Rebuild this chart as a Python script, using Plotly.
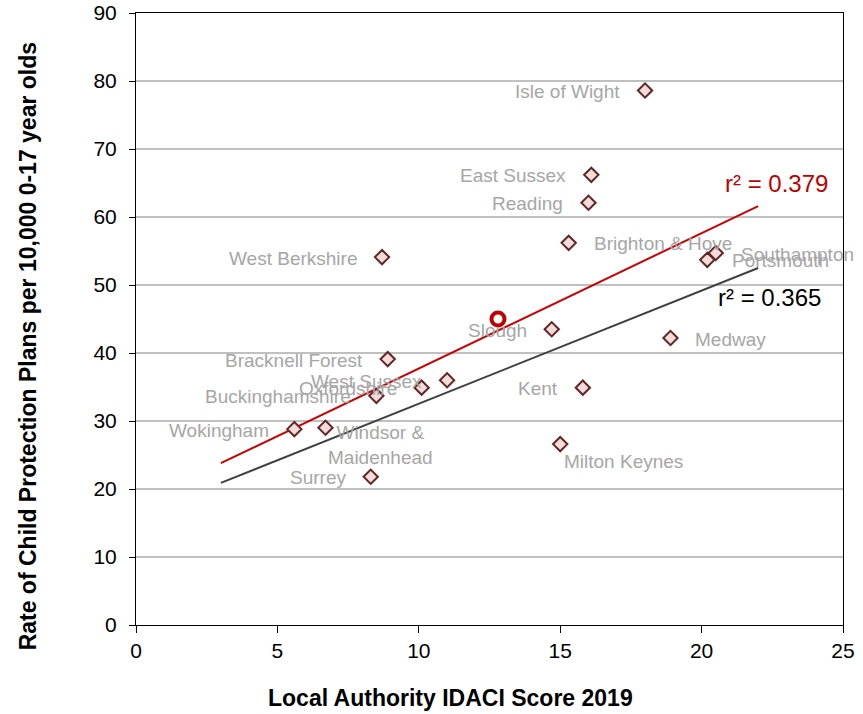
import plotly.graph_objects as go

# Local authority data
authorities = ["Isle of Wight", "East Sussex", "Reading", "Brighton & Hove", "West Berkshire",
               "Southampton", "Portsmouth", "Slough", "Medway", "Bracknell Forest",
               "West Sussex", "Oxfordshire", "Buckinghamshire", "Kent", "Wokingham",
               "Windsor &<br>Maidenhead", "Milton Keynes", "Surrey"]
idaci = [18.0, 16.1, 16.0, 15.3, 8.7, 20.5, 20.2, 14.7, 18.9, 8.9,
         11.0, 10.1, 8.5, 15.8, 5.6, 6.7, 15.0, 8.3]
cpp_rate = [78.6, 66.2, 62.1, 56.2, 54.1, 54.7, 53.7, 43.5, 42.2, 39.1,
            36.0, 34.9, 33.7, 34.9, 28.8, 29.0, 26.6, 21.8]

# highlighted point (red circle)
highlight_x = [12.8]
highlight_y = [45.0]

# trend lines
trend_x = [3, 22]
trend_red_y = [23.8, 61.6]
trend_black_y = [20.9, 52.5]
r2_red = "r² = 0.379"
r2_black = "r² = 0.365"

# label placement: side of marker
label_side = ["left", "left", "left", "right", "left",
              "right", "right", "left", "right", "left",
              "left", "left", "left", "left", "left",
              "below", "below", "left"]
below_xshift = {"Windsor &<br>Maidenhead": 55, "Milton Keynes": 63}

FONT = "Liberation Sans, Arial, sans-serif"

fig = go.Figure()

fig.add_trace(go.Scatter(x=trend_x, y=trend_red_y, mode="lines",
                         line=dict(color="#cc0000", width=2), showlegend=False, hoverinfo="skip"))
fig.add_trace(go.Scatter(x=trend_x, y=trend_black_y, mode="lines",
                         line=dict(color="#404040", width=2), showlegend=False, hoverinfo="skip"))

fig.add_trace(go.Scatter(
    x=idaci, y=cpp_rate, mode="markers", text=authorities,
    marker=dict(symbol="diamond", size=11, color="#f2dcdb",
                line=dict(color="#632523", width=2)),
    showlegend=False, cliponaxis=False))

fig.add_trace(go.Scatter(
    x=highlight_x, y=highlight_y, mode="markers",
    marker=dict(symbol="circle", size=13, color="white",
                line=dict(color="#c00000", width=4)),
    showlegend=False))

# data labels
for name, x, y, side in zip(authorities, idaci, cpp_rate, label_side):
    if side == "left":
        kw = dict(xanchor="right", xshift=-23, yshift=-1)
    elif side == "right":
        kw = dict(xanchor="left", xshift=23, yshift=-1)
    else:
        kw = dict(xanchor="center", xshift=below_xshift[name], yshift=-17, yanchor="middle")
    fig.add_annotation(x=x, y=y, text=name, showarrow=False,
                       font=dict(family=FONT, size=19, color="#a6a6a6"), **kw)

# r-squared labels
fig.add_annotation(x=trend_x[1], y=trend_red_y[1], text=r2_red, showarrow=False,
                   xanchor="center", yanchor="middle", xshift=18, yshift=23,
                   font=dict(family=FONT, size=24, color="#c00000"))
fig.add_annotation(x=trend_x[1], y=trend_black_y[1], text=r2_black, showarrow=False,
                   xanchor="center", yanchor="middle", xshift=11, yshift=-29,
                   font=dict(family=FONT, size=24, color="black"))

# axis titles
fig.add_annotation(xref="paper", yref="paper", x=0.4455, y=-0.119, yanchor="middle",
                   text="<b>Local Authority IDACI Score 2019</b>", showarrow=False,
                   font=dict(family=FONT, size=23, color="black"))
fig.add_annotation(xref="paper", yref="paper", x=-0.153, y=0.455, xanchor="center",
                   yanchor="middle", textangle=-90,
                   text="<b>Rate of Child Protection Plans per 10,000 0-17 year olds</b>",
                   showarrow=False, font=dict(family=FONT, size=23, color="black"))

fig.update_xaxes(range=[0, 25], dtick=5, showgrid=False, zeroline=False, automargin=False,
                 showline=True, linecolor="black", linewidth=1, mirror=True,
                 ticks="outside", ticklen=7, tickcolor="black",
                 tickfont=dict(family=FONT, size=21, color="black"))
fig.update_yaxes(range=[0, 90], dtick=10, showgrid=True, gridcolor="#c0c0c0", gridwidth=2,
                 zeroline=False, automargin=False,
                 showline=True, linecolor="black", linewidth=1, mirror=True,
                 ticks="outside", ticklen=6, tickcolor="black", ticklabelstandoff=8,
                 tickfont=dict(family=FONT, size=21, color="black"))

fig.update_layout(width=863, height=714,
                  margin=dict(l=136, r=20, t=13, b=89),
                  plot_bgcolor="white", paper_bgcolor="white",
                  font=dict(family=FONT))

# drop the default 8px page margin so the chart fills the window
fig.write_html("out.html", config={"displayModeBar": False},
               post_script="document.body.style.margin='0';")
